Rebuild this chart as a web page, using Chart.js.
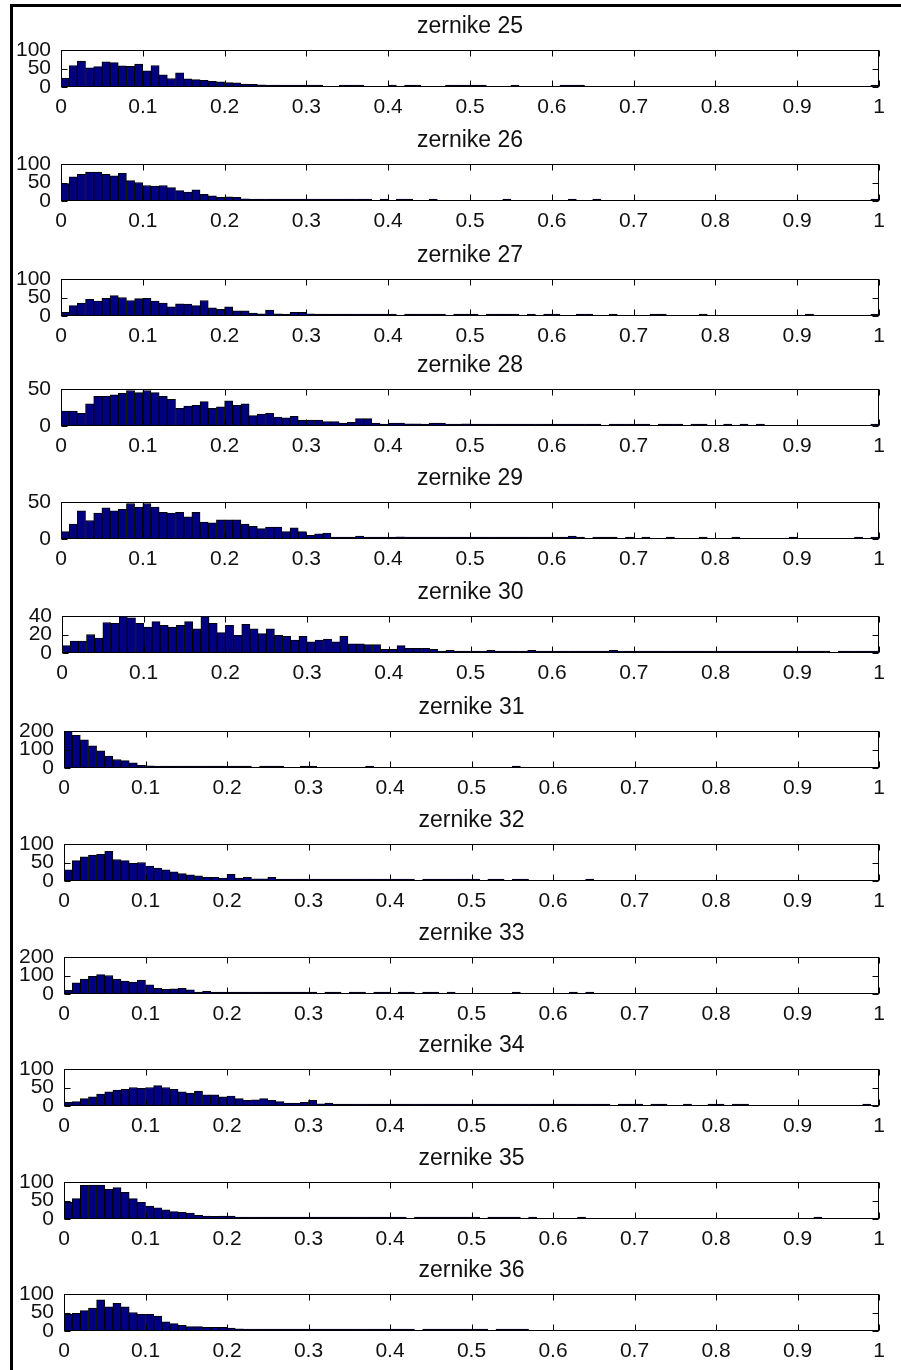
<!DOCTYPE html>
<html>
<head>
<meta charset="utf-8">
<script src="https://cdn.jsdelivr.net/npm/chart.js@4.4.1/dist/chart.umd.min.js"></script>
<style>
  body { margin: 0; background: #fff; width: 901px; height: 1370px; position: relative; overflow: hidden; }
  #frame { position: absolute; left: 10px; top: 4px; width: 900px; height: 1380px;
           border-left: 3px solid #000; border-top: 3px solid #000; }
  canvas { position: absolute; left: 0; }
</style>
</head>
<body>
<div id="frame"></div>
<div id="plots"></div>
<script>
// histogram data, 100 bins of width 0.01 over [0, 1]
const titles = ['zernike 25', 'zernike 26', 'zernike 27', 'zernike 28', 'zernike 29', 'zernike 30',
                'zernike 31', 'zernike 32', 'zernike 33', 'zernike 34', 'zernike 35', 'zernike 36'];

const z25 = [24,58,70,52,55,68,66,57,56,62, 44,58,33,23,38,22,20,18,15,14, 12,11,8,7,6,5,5,4,2,2,
             1,1,0,0,1,1,1,0,0,0, 1,0,1,1,0,0,0,1,1,2, 3,1,0,0,0,2,0,0,0,0, 0,2,2,1,0,0,0,0,0,0,
             0,0,0,0,0,0,0,0,0,0, 0,0,0,0,0,0,0,0,0,0, 0,0,0,0,0,0,0,0,0,2];
const z26 = [47,65,72,78,78,72,68,75,55,50, 42,40,42,36,28,24,30,18,14,10, 11,10,6,4,5,2,2,2,2,2,
             1,1,1,1,1,1,1,1,0,1, 0,1,1,0,0,1,0,0,0,0, 0,0,0,0,1,0,0,0,0,0, 0,0,1,0,0,1,0,0,0,0,
             0,0,0,0,0,0,0,0,0,0, 0,0,0,0,0,0,0,0,0,0, 0,0,0,0,0,0,0,0,0,1];
const z27 = [10,28,35,45,40,48,55,50,42,47, 48,40,35,25,33,32,28,42,22,18, 25,14,14,8,6,16,6,5,10,10,
             6,4,4,2,2,1,2,1,1,1, 1,0,1,1,1,2,1,0,1,1, 2,0,1,1,2,1,0,1,0,2, 1,0,0,1,2,0,0,1,0,0,
             0,0,1,2,0,0,0,0,1,0, 0,0,0,0,0,0,0,0,0,0, 0,1,0,0,0,0,0,0,0,1];
const z28 = [20,20,17,30,40,40,42,44,48,45, 48,45,40,36,24,27,28,33,24,26, 34,28,30,14,16,17,12,11,13,8,
             8,8,6,6,4,5,10,10,4,2, 4,4,3,3,2,4,4,2,2,3, 2,2,1,2,2,2,1,1,2,1, 2,1,1,2,1,1,0,1,1,2,
             1,1,0,1,1,1,0,1,1,0, 0,1,0,1,0,1,0,0,0,0, 0,0,0,0,0,0,0,0,0,1];
const z29 = [10,20,38,25,35,42,38,40,48,43, 48,43,36,35,36,30,36,23,22,26, 26,26,20,17,14,16,16,10,15,10,
             5,7,8,2,2,2,4,2,2,2, 1,3,2,1,2,2,1,1,2,1, 2,1,1,2,1,1,1,2,1,1, 1,1,4,1,0,1,1,1,0,2,
             0,1,0,0,1,0,0,0,1,0, 0,0,1,0,0,0,0,0,0,1, 0,0,0,0,0,0,0,1,0,1];
const z30 = [8,13,13,20,16,33,32,40,38,32, 28,34,30,28,30,34,26,40,32,22, 30,19,31,26,21,26,19,18,14,18,
             12,14,15,12,18,10,10,9,9,4, 4,8,5,5,5,4,2,3,2,2, 2,1,3,2,2,1,2,3,2,1, 2,1,2,1,2,1,2,3,1,1,
             2,1,1,2,1,1,1,1,2,1, 1,2,1,1,1,1,1,1,1,1, 2,1,1,1,0,1,1,1,2,1];
const z31 = [200,176,152,120,93,65,46,40,28,15, 12,8,5,8,4,3,3,3,3,2, 2,2,2,0,1,3,3,0,0,3,
             3,0,0,0,0,0,0,3,0,0, 0,0,0,0,0,0,0,0,0,0, 0,0,0,0,0,3,0,0,0,0, 0,0,0,0,0,0,0,0,0,0,
             0,0,0,0,0,0,0,0,0,0, 0,0,0,0,0,0,0,0,0,0, 0,0,0,0,0,0,0,0,0,0];
const z32 = [30,55,65,70,72,80,58,55,48,50, 40,35,30,25,20,17,14,10,10,8, 18,8,10,6,6,10,4,3,2,2,
             1,2,1,1,1,1,1,1,1,1, 1,1,1,0,1,1,1,1,1,1, 1,0,1,1,0,1,1,0,0,0, 0,0,0,0,2,0,0,0,0,0,
             0,0,0,0,0,0,0,0,0,0, 0,0,0,0,0,0,0,0,0,0, 0,0,0,0,0,0,0,0,0,0];
const z33 = [20,60,80,95,105,100,80,70,65,75, 50,30,25,28,30,22,8,15,6,4, 4,3,3,2,2,2,2,2,2,2,
             3,0,3,3,0,3,3,0,3,3, 0,3,3,0,3,3,0,3,0,0, 0,0,0,0,0,3,0,0,0,0, 0,0,3,0,3,0,0,0,0,0,
             0,0,0,0,0,0,0,0,0,0, 0,0,0,0,0,0,0,0,0,0, 0,0,0,0,0,0,0,0,0,0];
const z34 = [10,12,20,25,32,38,43,45,50,48, 50,55,50,45,38,35,40,30,30,25, 27,20,15,17,20,15,12,8,8,10,
             15,6,8,3,4,2,2,4,2,2, 2,1,5,2,2,2,2,2,1,2, 1,2,2,1,1,2,1,1,2,1, 2,2,1,1,1,2,1,0,2,2,
             1,0,1,1,0,0,1,0,0,2, 2,0,1,1,0,0,0,0,0,0, 0,0,0,0,0,0,0,0,2,0];
const z35 = [45,55,91,92,92,80,85,72,55,45, 35,30,25,20,18,16,10,8,7,8, 8,3,2,2,2,2,2,2,2,2,
             2,1,2,1,2,2,2,2,1,1, 1,2,0,1,1,2,1,2,1,1, 2,0,1,1,1,2,0,1,0,0, 0,0,0,1,0,0,0,0,0,0,
             0,0,0,0,0,0,0,0,0,0, 0,0,0,0,0,0,0,0,0,0, 0,0,1,0,0,0,0,0,0,0];
const z36 = [45,48,55,62,84,65,75,65,50,45, 45,40,25,20,15,12,12,10,10,10, 8,6,5,4,2,3,1,2,3,1,
             1,1,1,1,1,1,1,1,1,1, 1,1,1,0,1,1,1,1,1,1, 1,1,0,1,1,1,1,0,0,0, 0,0,0,0,0,0,0,0,0,0,
             0,0,0,0,0,0,0,0,0,0, 0,0,0,0,0,0,0,0,0,0, 0,0,0,0,0,0,0,0,0,0];
const series = [z25, z26, z27, z28, z29, z30, z31, z32, z33, z34, z35, z36];

const yMaxes = [100, 100, 100, 50, 50, 40, 200, 100, 200, 100, 100, 100];
const yTickSets = [[0,50,100], [0,50,100], [0,50,100], [0,50], [0,50], [0,20,40],
                   [0,100,200], [0,50,100], [0,100,200], [0,50,100], [0,50,100], [0,50,100]];
const xTickValues = [0, 0.1, 0.2, 0.3, 0.4, 0.5, 0.6, 0.7, 0.8, 0.9, 1];
const xTickLabels = ['0', '0.1', '0.2', '0.3', '0.4', '0.5', '0.6', '0.7', '0.8', '0.9', '1'];
const binWidth = 0.01;

// layout (lower half of the figure sits a few px further right)
const boxTops = [50, 164, 279, 389, 502, 616, 731, 844, 957, 1069, 1182, 1294];
const boxLefts = [61, 61, 61, 61, 61, 62, 64, 64, 64, 64, 64, 64];
const BOX_H = 37, BOX_RIGHT = 879;
const PAD_TOP = 44, X_AXIS_H = 34, TICK_LEN = 6;
const FONT = '"Liberation Sans", Arial, sans-serif';

// matlab-like box with inward ticks and title over the axes
const axesFrame = {
  id: 'axesFrame',
  afterDatasetsDraw(chart, args, opts) {
    const { ctx, chartArea: a, scales: { x, y } } = chart;
    const L = Math.round(a.left) + 0.5, R = Math.round(a.right) - 0.5;
    const T = Math.round(a.top) + 0.5, B = Math.round(a.bottom) - 0.5;
    ctx.save();
    ctx.strokeStyle = '#000';
    ctx.lineWidth = 1;
    ctx.strokeRect(L, T, R - L, B - T);
    ctx.beginPath();
    x.ticks.forEach(t => {
      const px = Math.round(x.getPixelForValue(t.value)) + 0.5;
      ctx.moveTo(px, T); ctx.lineTo(px, T + TICK_LEN);
      ctx.moveTo(px, B); ctx.lineTo(px, B - TICK_LEN);
    });
    y.ticks.forEach(t => {
      const py = Math.round(y.getPixelForValue(t.value)) + 0.5;
      ctx.moveTo(L, py); ctx.lineTo(L + TICK_LEN, py);
      ctx.moveTo(R, py); ctx.lineTo(R - TICK_LEN, py);
    });
    ctx.stroke();
    ctx.fillStyle = '#111';
    ctx.font = '23px ' + FONT;
    ctx.textAlign = 'center';
    ctx.textBaseline = 'alphabetic';
    ctx.fillText(opts.text, (a.left + a.right) / 2, a.top - 17);
    ctx.restore();
  }
};

const holder = document.getElementById('plots');

series.forEach((vals, k) => {
  const canvas = document.createElement('canvas');
  canvas.width = 901;
  canvas.height = PAD_TOP + BOX_H + X_AXIS_H;
  canvas.style.top = (boxTops[k] - PAD_TOP) + 'px';
  holder.appendChild(canvas);

  // empty bins are left out so that minBarLength only lifts the small counts
  const points = vals.map((v, i) => ({ x: (i + 0.5) * binWidth, y: v === 0 ? null : v }));

  new Chart(canvas.getContext('2d'), {
    type: 'bar',
    data: {
      datasets: [{
        data: points,
        backgroundColor: '#000080',
        borderColor: '#000',
        borderWidth: 1,
        minBarLength: 2,
        barPercentage: 1,
        categoryPercentage: 1,
      }],
    },
    options: {
      responsive: false,
      animation: false,
      layout: { padding: { top: PAD_TOP, right: 901 - BOX_RIGHT, left: 0, bottom: 0 } },
      plugins: {
        legend: { display: false },
        tooltip: { enabled: false },
        axesFrame: { text: titles[k] },
      },
      scales: {
        x: {
          type: 'linear',
          min: 0,
          max: 1,
          offset: false,
          grid: { display: false, drawTicks: false },
          border: { display: false },
          afterBuildTicks: s => { s.ticks = xTickValues.map(v => ({ value: v })); },
          afterFit: s => { s.height = X_AXIS_H; },
          ticks: {
            autoSkip: false,
            maxRotation: 0,
            padding: 8,
            color: '#111',
            font: { family: FONT, size: 21 },
            callback: (v, i) => xTickLabels[i],
          },
        },
        y: {
          min: 0,
          max: yMaxes[k],
          grid: { display: false, drawTicks: false },
          border: { display: false },
          afterBuildTicks: s => { s.ticks = yTickSets[k].map(v => ({ value: v })); },
          afterFit: s => { s.width = boxLefts[k]; },
          ticks: {
            autoSkip: false,
            padding: 10,
            color: '#111',
            font: { family: FONT, size: 21 },
            callback: v => String(v),
          },
        },
      },
    },
    plugins: [axesFrame],
  });
});
</script>
</body>
</html>
